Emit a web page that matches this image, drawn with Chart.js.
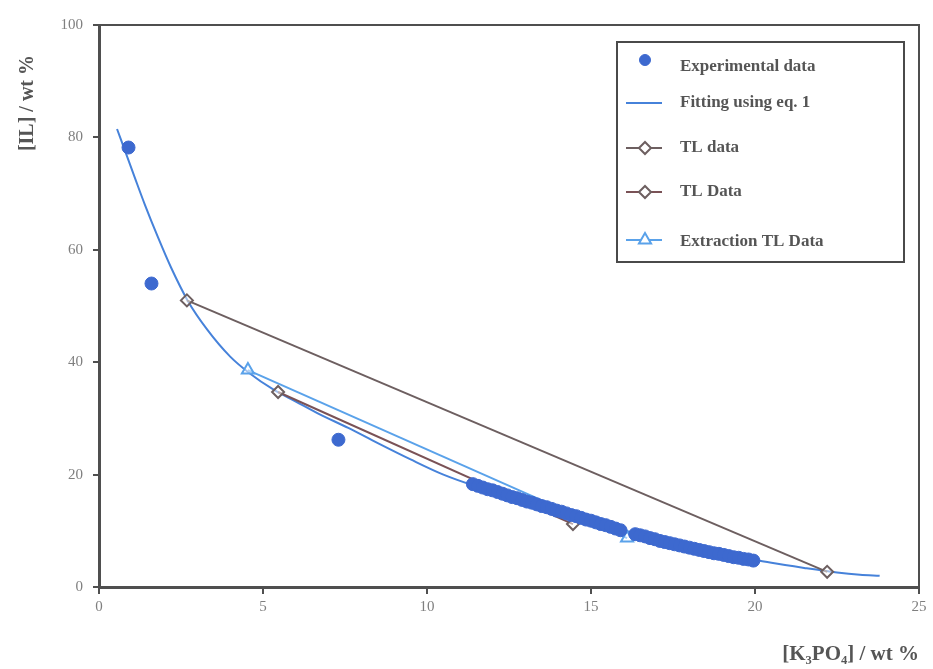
<!DOCTYPE html>
<html>
<head>
<meta charset="utf-8">
<script src="https://cdn.jsdelivr.net/npm/chart.js@4.4.1/dist/chart.umd.min.js"></script>
<style>
  html, body { margin: 0; padding: 0; background: #ffffff; }
  #wrap { position: relative; width: 933px; height: 669px; }
</style>
</head>
<body>
<div id="wrap"><canvas id="chart" width="933" height="669"></canvas></div>
<script>
// Experimental binodal points
const expX = [0.9, 1.6, 7.3,
  11.4, 11.55, 11.7, 11.85, 12.0, 12.15, 12.3, 12.45, 12.6, 12.75, 12.9, 13.05, 13.2, 13.35,
  13.5, 13.65, 13.8, 13.95, 14.1, 14.25, 14.4, 14.55, 14.7, 14.85, 15.0, 15.15, 15.3, 15.45,
  15.6, 15.75, 15.9, 16.35, 16.5, 16.65, 16.8, 16.95, 17.1, 17.25, 17.4, 17.55, 17.7, 17.85,
  18.0, 18.15, 18.3, 18.45, 18.6, 18.75, 18.9, 19.05, 19.2, 19.35, 19.5, 19.65, 19.8, 19.95];
const expY = [78.2, 54.0, 26.2,
  18.3, 18.0, 17.7, 17.4, 17.2, 16.9, 16.6, 16.3, 16.0, 15.8, 15.5, 15.2, 15.0, 14.7,
  14.4, 14.2, 13.9, 13.6, 13.4, 13.1, 12.8, 12.6, 12.3, 12.0, 11.8, 11.5, 11.2, 11.0,
  10.7, 10.4, 10.1, 9.4, 9.2, 9.0, 8.7, 8.5, 8.2, 8.0, 7.8, 7.6, 7.4, 7.2,
  7.0, 6.8, 6.6, 6.4, 6.2, 6.0, 5.9, 5.7, 5.5, 5.3, 5.2, 5.0, 4.9, 4.7];

// Fitted curve (eq. 1)
const fitX = [0.55, 0.8, 1.1, 1.4, 1.8, 2.2, 2.7, 3.3, 4.0, 4.6, 5.3, 6.0, 6.7, 7.6, 8.5, 9.5, 10.5,
  11.5, 12.5, 13.5, 14.5, 15.5, 16.5, 17.5, 18.5, 19.5, 20.5, 21.5, 22.5, 23.2, 23.8];
const fitY = [81.5, 77.5, 72.7, 68.0, 62.2, 56.8, 51.0, 45.8, 41.0, 38.0, 35.2, 33.0, 30.8, 28.3, 25.6, 22.7, 20.0,
  17.9, 16.1, 14.4, 12.6, 10.9, 9.3, 7.8, 6.5, 5.4, 4.3, 3.4, 2.6, 2.2, 2.0];

// Tie-lines
const tl1X = [2.68, 22.2];
const tl1Y = [51.0, 2.7];
const tl2X = [5.46, 14.45];
const tl2Y = [34.7, 11.2];
const extX = [4.54, 16.1];
const extY = [38.6, 8.7];

const xTicks = [0, 5, 10, 15, 20, 25];
const yTicks = [0, 20, 40, 60, 80, 100];

function pts(xs, ys) {
  return xs.map((x, i) => ({ x: x, y: ys[i] }));
}

const axisColor = "#4f4f4f";
const serif = "'Liberation Serif', 'DejaVu Serif', serif";
const tickFont = { family: serif, size: 15 };
const titleFont = { family: serif, size: 21, weight: "bold" };

// legend drawn inside the plot, boxed, like the original figure
const boxLegend = {
  id: "boxLegend",
  afterDraw(chart) {
    const ctx = chart.ctx;
    const left = 617, top = 42, right = 904, bottom = 262;
    ctx.save();
    ctx.fillStyle = "rgba(255,255,255,0.9)";
    ctx.fillRect(left, top, right - left, bottom - top);
    ctx.strokeStyle = "#4a4a4a";
    ctx.lineWidth = 2;
    ctx.strokeRect(left, top, right - left, bottom - top);
    const rows = [60, 103, 148, 192, 240];
    const textRows = [67, 103, 148, 192, 242];
    chart.data.datasets.forEach((ds, i) => {
      const y = rows[i];
      const mx = 645;
      if (ds.showLine) {
        ctx.strokeStyle = ds.borderColor;
        ctx.lineWidth = 2;
        ctx.beginPath();
        ctx.moveTo(626, y);
        ctx.lineTo(662, y);
        ctx.stroke();
      }
      if (ds.pointRadius > 0) {
        ctx.fillStyle = ds.pointBackgroundColor === "rgba(255,255,255,0.5)" ? "#ffffff" : ds.pointBackgroundColor;
        ctx.strokeStyle = ds.pointBorderColor;
        ctx.lineWidth = ds.pointBorderWidth || 1;
        Chart.helpers.drawPoint(ctx, {
          pointStyle: ds.pointStyle,
          radius: i === 0 ? 5.5 : ds.pointRadius,
          borderWidth: ds.pointBorderWidth || 1
        }, mx, y);
      }
      ctx.fillStyle = "#555555";
      ctx.font = "bold 17px " + serif;
      ctx.textBaseline = "middle";
      ctx.textAlign = "left";
      ctx.fillText(ds.label, 680, textRows[i]);
    });
    ctx.restore();
  }
};

new Chart(document.getElementById("chart"), {
  type: "scatter",
  data: {
    datasets: [
      {
        label: "Experimental data",
        data: pts(expX, expY),
        showLine: false,
        pointStyle: "circle",
        pointRadius: 6.5,
        pointBackgroundColor: "#3d69cf",
        pointBorderColor: "#3d69cf",
        pointBorderWidth: 1,
        order: 1
      },
      {
        label: "Fitting using eq. 1",
        data: pts(fitX, fitY),
        showLine: true,
        borderColor: "#4682da",
        borderWidth: 2,
        pointRadius: 0,
        cubicInterpolationMode: "monotone",
        order: 5
      },
      {
        label: "TL data",
        data: pts(tl1X, tl1Y),
        showLine: true,
        borderColor: "#6d5f60",
        borderWidth: 2,
        pointStyle: "rectRot",
        pointRadius: 6,
        pointBackgroundColor: "rgba(255,255,255,0.5)",
        pointBorderColor: "#6d5f60",
        pointBorderWidth: 2,
        order: 3
      },
      {
        label: "TL Data",
        data: pts(tl2X, tl2Y),
        showLine: true,
        borderColor: "#7a5256",
        borderWidth: 2,
        pointStyle: "rectRot",
        pointRadius: 6,
        pointBackgroundColor: "rgba(255,255,255,0.5)",
        pointBorderColor: "#6d5f60",
        pointBorderWidth: 2,
        order: 2
      },
      {
        label: "Extraction TL Data",
        data: pts(extX, extY),
        showLine: true,
        borderColor: "#5aa2ea",
        borderWidth: 2,
        pointStyle: "triangle",
        pointRadius: 7,
        pointBackgroundColor: "rgba(255,255,255,0.5)",
        pointBorderColor: "#5aa2ea",
        pointBorderWidth: 2,
        order: 4
      }
    ]
  },
  options: {
    responsive: false,
    animation: false,
    layout: { padding: { top: 25, right: 14, left: 0, bottom: 0 } },
    plugins: {
      legend: { display: false },
      tooltip: { enabled: false }
    },
    scales: {
      x: {
        type: "linear",
        min: 0,
        max: 25,
        afterBuildTicks: (s) => { s.ticks = xTicks.map((v) => ({ value: v })); },
        afterFit: (s) => { s.height = 82; },
        grid: { drawOnChartArea: false, drawTicks: true, tickLength: 7, color: axisColor, lineWidth: 2 },
        border: { display: true, color: axisColor, width: 3 },
        ticks: { color: "#7f7f7f", font: tickFont, padding: 4 },
        title: {
          display: true,
          text: "[K\u2083PO\u2084] / wt %",
          align: "end",
          color: "#555555",
          font: titleFont,
          padding: { top: 0, bottom: 2 }
        }
      },
      y: {
        type: "linear",
        min: 0,
        max: 100,
        afterBuildTicks: (s) => { s.ticks = yTicks.map((v) => ({ value: v })); },
        afterFit: (s) => { s.width = 99; },
        grid: { drawOnChartArea: false, drawTicks: true, tickLength: 6, color: axisColor, lineWidth: 2 },
        border: { display: true, color: axisColor, width: 3 },
        ticks: { color: "#7f7f7f", font: tickFont, padding: 10 },
        title: {
          display: true,
          // trailing spaces keep the top-aligned title a little below the frame
          text: "[IL] / wt %      ",
          align: "end",
          color: "#555555",
          font: { family: serif, size: 20, weight: "bold" },
          padding: { top: 16, bottom: 0 }
        }
      },
      xTop: {
        type: "linear",
        position: "top",
        min: 0,
        max: 25,
        afterFit: (s) => { s.height = 0; },
        grid: { display: false },
        border: { display: true, color: axisColor, width: 2 },
        ticks: { display: false }
      },
      yRight: {
        type: "linear",
        position: "right",
        min: 0,
        max: 100,
        afterFit: (s) => { s.width = 0; },
        grid: { display: false },
        border: { display: true, color: axisColor, width: 2 },
        ticks: { display: false }
      }
    }
  },
  plugins: [boxLegend]
});
</script>
</body>
</html>
